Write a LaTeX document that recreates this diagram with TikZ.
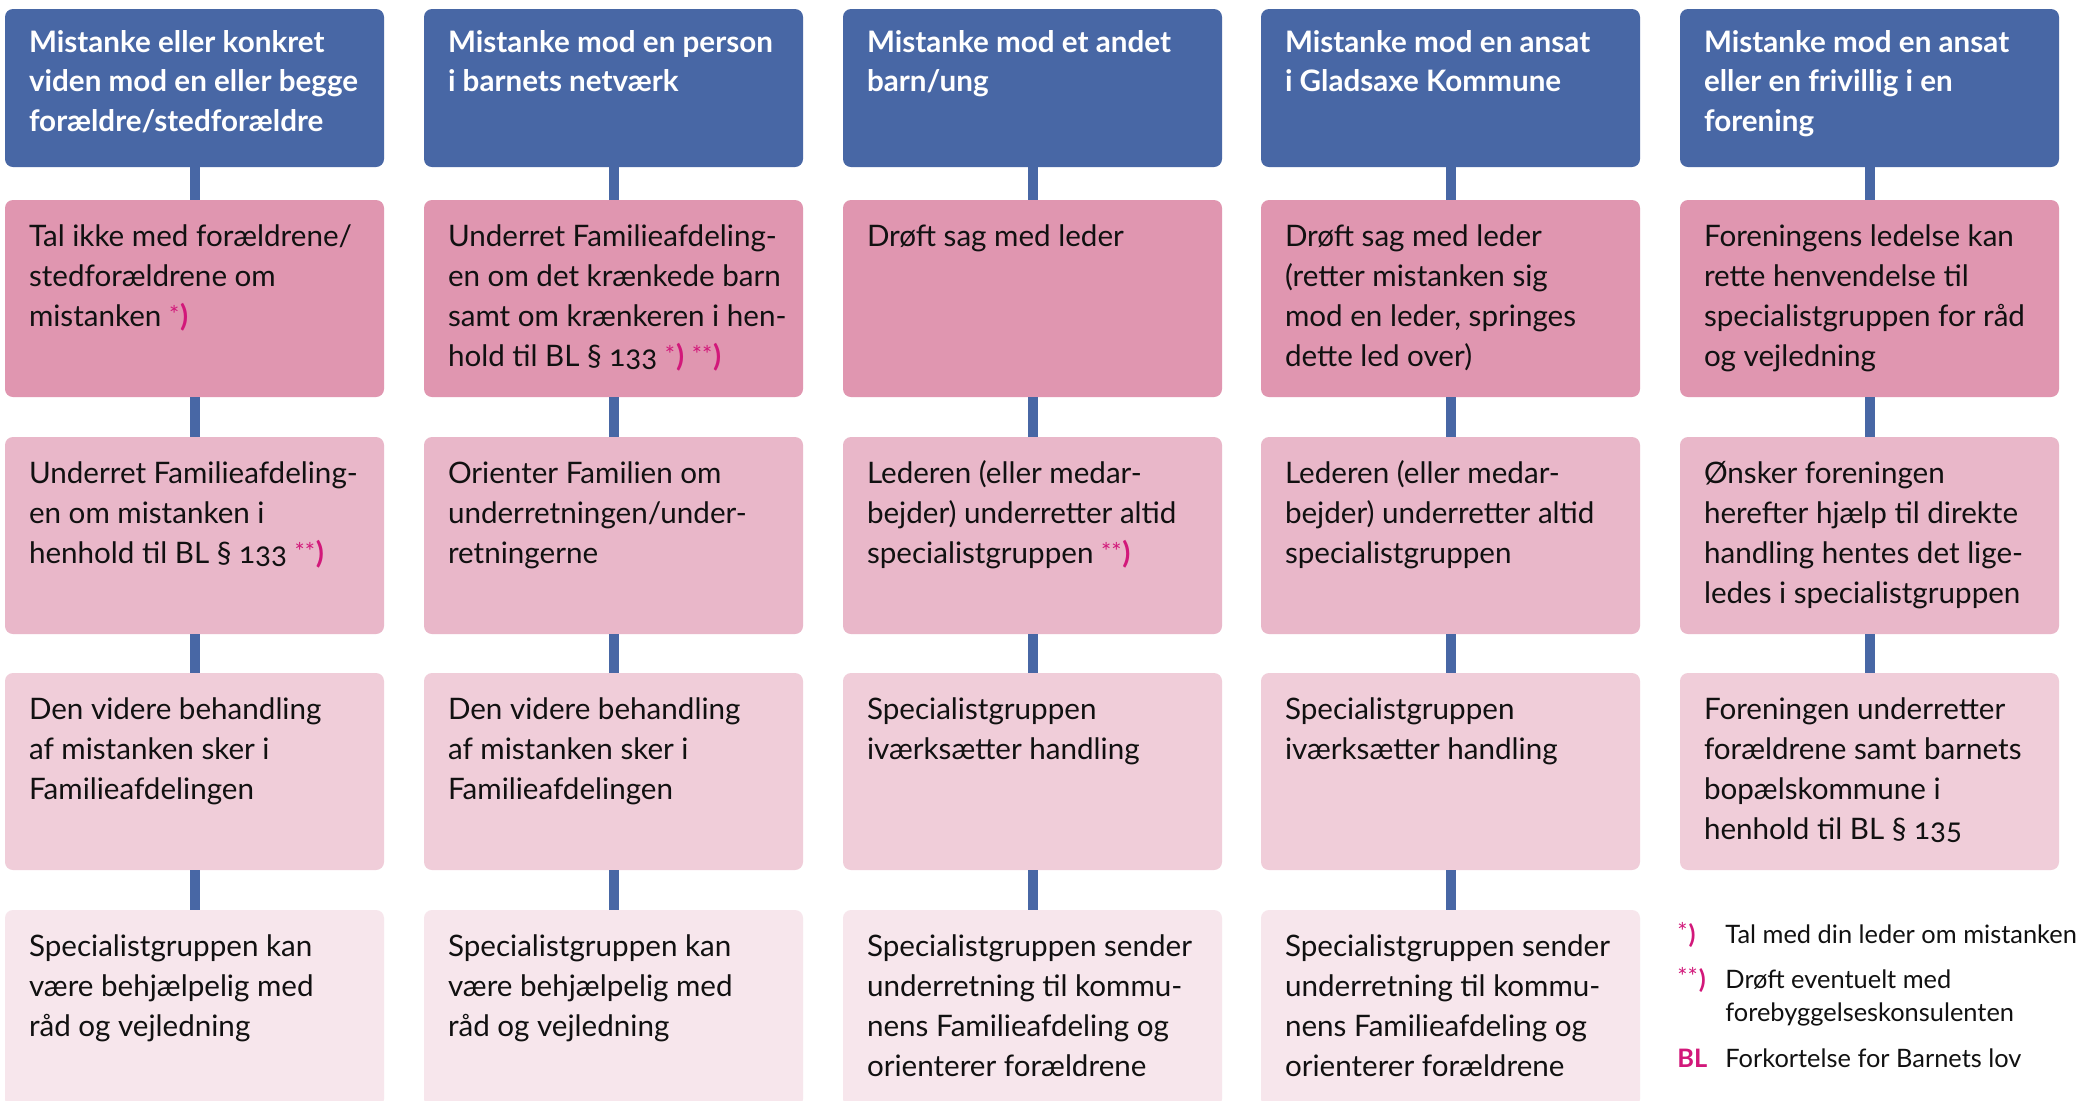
\documentclass[tikz,border=0pt]{standalone}
\usepackage{fontspec}
\setmainfont{Lato}[Numbers=OldStyle]
\definecolor{hblue}{HTML}{4867A5}
\definecolor{pinkA}{HTML}{E096B0}
\definecolor{pinkB}{HTML}{E9B7C9}
\definecolor{pinkC}{HTML}{F0CDD9}
\definecolor{pinkD}{HTML}{F7E6EC}
\definecolor{mk}{HTML}{D2187A}
\definecolor{txt}{HTML}{111111}
\newcommand\hbx[1]{\hspace*{12pt}\parbox[c][79pt][t]{177.5pt}{\raggedright\fontsize{14.8pt}{19.75pt}\selectfont\bfseries\rule{0pt}{21.5pt}#1}}
\newcommand\bbx[1]{\hspace*{12pt}\parbox[c][98.5pt][t]{177.5pt}{\raggedright\fontsize{14.8pt}{20pt}\selectfont\rule{0pt}{23pt}#1}}
\newcommand\mkA{{\color{mk}\raisebox{.1em}{\fontsize{12pt}{12pt}\selectfont *}\kern.5pt\textbf{)}}}
\newcommand\mkB{{\color{mk}\raisebox{.1em}{\fontsize{12pt}{12pt}\selectfont **}\kern.5pt\textbf{)}}}
\begin{document}
\begin{tikzpicture}[x=0.5pt,y=-0.5pt,
  cell/.style={anchor=north west,inner sep=0pt,outer sep=0pt,rounded corners=4pt,text=txt},
  hdr/.style={cell,fill=hblue,text=white},
  rA/.style={cell,fill=pinkA},
  rB/.style={cell,fill=pinkB},
  rC/.style={cell,fill=pinkC},
  rD/.style={cell,fill=pinkD},
  conn/.style={draw=hblue,line width=5pt},
  legm/.style={anchor=base west,inner sep=0pt,text=mk,font=\fontsize{12.7pt}{16pt}\selectfont},
  legt/.style={anchor=base west,inner sep=0pt,text=txt,align=left,font=\fontsize{12.7pt}{16.25pt}\selectfont}]
\clip (0,0) rectangle (2092,1100);
\fill[white] (0,0) rectangle (2092,1100);
% column 1
\node[hdr] (h1) at (5,9) {\hbx{Mistanke eller konkret\\viden mod en eller begge\\forældre/stedforældre}};
\node[rA] (a1) at (5,200) {\bbx{Tal ikke med forældrene/\\stedforældrene om\\mistanken \mkA}};
\node[rB] (b1) at (5,437) {\bbx{Underret Familieafdeling-\\en om mistanken i\\henhold til BL § 133 \mkB}};
\node[rC] (c1) at (5,673) {\bbx{Den videre behandling\\af mistanken sker i\\Familieafdelingen}};
\node[rD] (d1) at (5,910) {\bbx{Specialistgruppen kan\\være behjælpelig med\\råd og vejledning}};
% column 2
\node[hdr] (h2) at (424,9) {\hbx{Mistanke mod en person\\i barnets netværk}};
\node[rA] (a2) at (424,200) {\bbx{Underret Familieafdeling-\\en om det krænkede barn\\samt om krænkeren i hen-\\hold til BL § 133 \mkA\ \mkB}};
\node[rB] (b2) at (424,437) {\bbx{Orienter Familien om\\underretningen/under-\\retningerne}};
\node[rC] (c2) at (424,673) {\bbx{Den videre behandling\\af mistanken sker i\\Familieafdelingen}};
\node[rD] (d2) at (424,910) {\bbx{Specialistgruppen kan\\være behjælpelig med\\råd og vejledning}};
% column 3
\node[hdr] (h3) at (843,9) {\hbx{Mistanke mod et andet\\barn/ung}};
\node[rA] (a3) at (843,200) {\bbx{Drøft sag med leder}};
\node[rB] (b3) at (843,437) {\bbx{Lederen (eller medar-\\bejder) underretter altid\\specialistgruppen \mkB}};
\node[rC] (c3) at (843,673) {\bbx{Specialistgruppen\\iværksætter handling}};
\node[rD] (d3) at (843,910) {\bbx{Specialistgruppen sender\\underretning til kommu-\\nens Familieafdeling og\\orienterer forældrene}};
% column 4
\node[hdr] (h4) at (1261,9) {\hbx{Mistanke mod en ansat\\i Gladsaxe Kommune}};
\node[rA] (a4) at (1261,200) {\bbx{Drøft sag med leder\\(retter mistanken sig\\mod en leder, springes\\dette led over)}};
\node[rB] (b4) at (1261,437) {\bbx{Lederen (eller medar-\\bejder) underretter altid\\specialistgruppen}};
\node[rC] (c4) at (1261,673) {\bbx{Specialistgruppen\\iværksætter handling}};
\node[rD] (d4) at (1261,910) {\bbx{Specialistgruppen sender\\underretning til kommu-\\nens Familieafdeling og\\orienterer forældrene}};
% column 5
\node[hdr] (h5) at (1680,9) {\hbx{Mistanke mod en ansat\\eller en frivillig i en\\forening}};
\node[rA] (a5) at (1680,200) {\bbx{Foreningens ledelse kan\\rette henvendelse til\\specialistgruppen for råd\\og vejledning}};
\node[rB] (b5) at (1680,437) {\bbx{Ønsker foreningen\\herefter hjælp til direkte\\handling hentes det lige-\\ledes i specialistgruppen}};
\node[rC] (c5) at (1680,673) {\bbx{Foreningen underretter\\forældrene samt barnets\\bopælskommune i\\henhold til BL § 135}};
% connectors
\foreach \i in {1,...,4}{
  \draw[conn] (h\i.south) -- (a\i.north);
  \draw[conn] (a\i.south) -- (b\i.north);
  \draw[conn] (b\i.south) -- (c\i.north);
  \draw[conn] (c\i.south) -- (d\i.north);
}
\draw[conn] (h5.south) -- (a5.north);
\draw[conn] (a5.south) -- (b5.north);
\draw[conn] (b5.south) -- (c5.north);
% legend
\node[legm] (m1) at (1677,943) {\mkA};
\node[legt] (t1) at (1725,943) {Tal med din leder om mistanken};
\node[legm] (m2) at (1677,988) {\mkB};
\node[legt] (t2) at (1725,1021) {Drøft eventuelt med\\forebyggelseskonsulenten};
\node[legm,font=\fontsize{12.7pt}{16pt}\selectfont\bfseries] (m3) at (1677,1067) {BL};
\node[legt] (t3) at (1725,1067) {Forkortelse for Barnets lov};
\end{tikzpicture}
\end{document}
